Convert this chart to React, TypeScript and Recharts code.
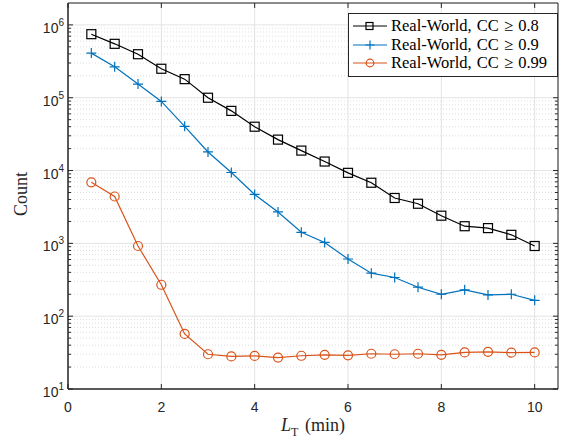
import {
    LineChart,
    Line,
    XAxis,
    YAxis,
    CartesianGrid,
    ReferenceLine,
    ReferenceArea
} from 'recharts';

const lengths = [0.5, 1, 1.5, 2, 2.5, 3, 3.5, 4, 4.5, 5, 5.5, 6, 6.5, 7, 7.5, 8, 8.5, 9, 9.5, 10];
const cc08 = [746000, 550000, 396000, 250000, 180000, 100000, 66000, 40000, 26600, 18800, 13300, 9300, 6800, 4200, 3500, 2400, 1720, 1620, 1310, 920];
const cc09 = [410000, 266000, 154000, 89000, 40500, 18000, 9400, 4700, 2700, 1420, 1030, 610, 390, 340, 250, 200, 230, 196, 200, 165];
const cc099 = [6900, 4400, 920, 270, 57, 30, 28, 28.5, 27, 28.6, 29.5, 29, 30.5, 30, 30.5, 29.5, 31.8, 32.4, 31.5, 31.8];

const xTicks = [0, 2, 4, 6, 8, 10];
const yTicks = [10, 100, 1000, 10000, 100000, 1000000];
const legendLabels = ['Real-World, CC \u2265 0.8', 'Real-World, CC \u2265 0.9', 'Real-World, CC \u2265 0.99'];

const X_MAX = 10.5;
const Y_MIN = 10;
const Y_MAX = 2e6;

const BLACK = '#000000';
const BLUE = '#0072BD';
const ORANGE = '#D95319';
const AXIS = '#262626';

const data = lengths.map((x, i) => ({ x, a: cc08[i], b: cc09[i], c: cc099[i] }));

// minor log grid values (2..9 per decade)
const minorY: number[] = [];
for (let d = 10; d < Y_MAX; d *= 10) {
    for (let k = 2; k <= 9; k++) {
        if (d * k < Y_MAX) minorY.push(d * k);
    }
}

const square = (color: string) => (p: any) => (
    <rect key={`s${p.index}`} x={p.cx - 4.5} y={p.cy - 4.5} width={9} height={9} fill="none" stroke={color} strokeWidth={1.2} />
);
const plus = (color: string) => (p: any) => (
    <path key={`p${p.index}`} d={`M${p.cx - 5},${p.cy}H${p.cx + 5}M${p.cx},${p.cy - 5}V${p.cy + 5}`} stroke={color} strokeWidth={1.2} />
);
const circle = (color: string) => (p: any) => (
    <circle key={`c${p.index}`} cx={p.cx} cy={p.cy} r={4.5} fill="none" stroke={color} strokeWidth={1.2} />
);

function YTick(props: any) {
    const { x, y, payload } = props;
    const exp = Math.round(Math.log10(payload.value));
    return (
        <text x={x + 4} y={y + 8} textAnchor="end" fill={AXIS} fontFamily="Liberation Sans, Arial, sans-serif" fontSize={14}>
            10
            <tspan dy={-7} fontSize={10}>{exp}</tspan>
        </text>
    );
}

function XTick(props: any) {
    const { x, y, payload } = props;
    return (
        <text x={x} y={y + 15} textAnchor="middle" fill={AXIS} fontFamily="Liberation Sans, Arial, sans-serif" fontSize={14}>
            {payload.value}
        </text>
    );
}

function LegendMarker({ kind, color }: { kind: string; color: string }) {
    return (
        <svg width={34} height={12} style={{ display: 'block' }}>
            <line x1={0} y1={6} x2={34} y2={6} stroke={color} strokeWidth={1.2} />
            {kind === 'square' && <rect x={13} y={2.5} width={7} height={7} fill="none" stroke={color} strokeWidth={1.2} />}
            {kind === 'plus' && <path d="M12.5,6H21.5M17,1.5V10.5" stroke={color} strokeWidth={1.2} />}
            {kind === 'circle' && <circle cx={17} cy={6} r={3.8} fill="none" stroke={color} strokeWidth={1.2} />}
        </svg>
    );
}

const legendItems = [
    { kind: 'square', color: BLACK },
    { kind: 'plus', color: BLUE },
    { kind: 'circle', color: ORANGE }
];

export default function App() {
    const tickLen = 0.107;
    const minorLen = 0.064;
    const yTickFactor = 1.171;
    return (
        <div style={{ position: 'absolute', left: 0, top: 0, width: 565, height: 440, background: '#fff' }}>
            <LineChart width={565} height={440} data={data} margin={{ top: 3, right: 7, left: 0, bottom: 0 }}>
                <CartesianGrid stroke="#e3e3e3" strokeWidth={1} />
                {minorY.map((v) => (
                    <ReferenceLine key={`m${v}`} y={v} stroke="#d6d6d6" strokeDasharray="1 2" strokeWidth={0.8} />
                ))}
                <XAxis
                    dataKey="x"
                    type="number"
                    domain={[0, X_MAX]}
                    ticks={xTicks}
                    allowDataOverflow
                    height={51}
                    tickLine={false}
                    axisLine={{ stroke: AXIS }}
                    tick={<XTick />}
                />
                <YAxis
                    type="number"
                    scale="log"
                    domain={[Y_MIN, Y_MAX]}
                    ticks={yTicks}
                    allowDataOverflow
                    width={68}
                    tickLine={false}
                    axisLine={{ stroke: AXIS }}
                    tick={<YTick />}
                />
                <ReferenceArea x1={0} x2={X_MAX} y1={Y_MIN} y2={Y_MAX} fill="none" stroke={AXIS} strokeWidth={1} />
                {xTicks.map((t) => (
                    <ReferenceLine key={`xb${t}`} segment={[{ x: t, y: Y_MIN }, { x: t, y: Y_MIN * yTickFactor }]} stroke={AXIS} />
                ))}
                {xTicks.map((t) => (
                    <ReferenceLine key={`xt${t}`} segment={[{ x: t, y: Y_MAX }, { x: t, y: Y_MAX / yTickFactor }]} stroke={AXIS} />
                ))}
                {yTicks.map((t) => (
                    <ReferenceLine key={`yl${t}`} segment={[{ x: 0, y: t }, { x: tickLen, y: t }]} stroke={AXIS} />
                ))}
                {yTicks.map((t) => (
                    <ReferenceLine key={`yr${t}`} segment={[{ x: X_MAX, y: t }, { x: X_MAX - tickLen, y: t }]} stroke={AXIS} />
                ))}
                {minorY.map((t) => (
                    <ReferenceLine key={`ml${t}`} segment={[{ x: 0, y: t }, { x: minorLen, y: t }]} stroke={AXIS} />
                ))}
                {minorY.map((t) => (
                    <ReferenceLine key={`mr${t}`} segment={[{ x: X_MAX, y: t }, { x: X_MAX - minorLen, y: t }]} stroke={AXIS} />
                ))}
                <Line dataKey="a" stroke={BLACK} strokeWidth={1.2} dot={square(BLACK)} isAnimationActive={false} />
                <Line dataKey="b" stroke={BLUE} strokeWidth={1.2} dot={plus(BLUE)} isAnimationActive={false} />
                <Line dataKey="c" stroke={ORANGE} strokeWidth={1.2} dot={circle(ORANGE)} isAnimationActive={false} />
            </LineChart>

            {/* axis titles */}
            <div
                style={{
                    position: 'absolute',
                    left: 68,
                    width: 490,
                    top: 415,
                    textAlign: 'center',
                    fontFamily: 'Liberation Serif, Times New Roman, serif',
                    fontSize: 18,
                    color: AXIS,
                    wordSpacing: 2
                }}
            >
                <i>L</i>
                <sub style={{ fontSize: 12 }}>T</sub> (min)
            </div>
            <div
                style={{
                    position: 'absolute',
                    left: 21,
                    top: 194,
                    transform: 'translate(-50%, -50%) rotate(-90deg)',
                    fontFamily: 'Liberation Serif, Times New Roman, serif',
                    fontSize: 18,
                    color: AXIS,
                    whiteSpace: 'nowrap'
                }}
            >
                Count
            </div>

            {/* legend */}
            <div
                style={{
                    position: 'absolute',
                    left: 348,
                    top: 13,
                    width: 208,
                    height: 62,
                    border: '1px solid #262626',
                    background: '#fff',
                    fontFamily: 'Liberation Serif, Times New Roman, serif',
                    fontSize: 16.5,
                    color: '#000',
                    boxSizing: 'content-box'
                }}
            >
                {legendItems.map((it, i) => (
                    <div key={i} style={{ display: 'flex', alignItems: 'center', height: 18.5, marginTop: i === 0 ? 3 : 0, paddingLeft: 4 }}>
                        <LegendMarker kind={it.kind} color={it.color} />
                        <span style={{ marginLeft: 4, whiteSpace: 'nowrap', wordSpacing: 1 }}>{legendLabels[i]}</span>
                    </div>
                ))}
            </div>
        </div>
    );
}
